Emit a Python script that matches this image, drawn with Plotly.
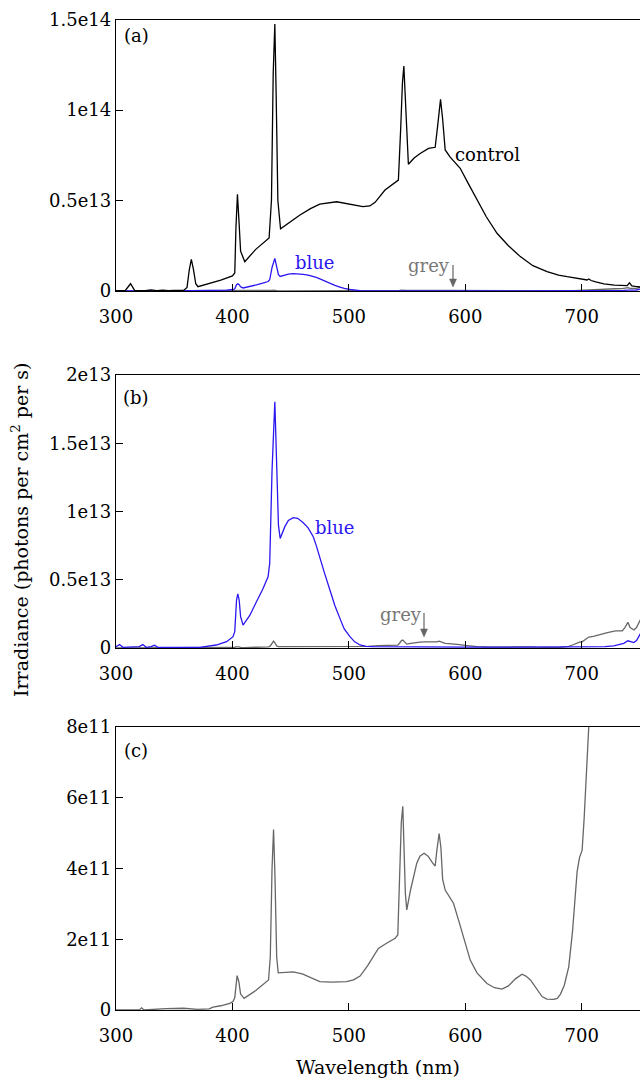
import plotly.graph_objects as go

# ---------------- data ----------------
wl_control = [300, 308, 312.5, 316, 325, 330, 335, 340, 345, 350, 358, 361, 363, 364.7, 366.5, 368.5,
              370.4, 380, 390, 400, 402, 403, 404.3, 405.5, 407, 410.6, 420, 431.5, 433.5, 435, 436.4,
              437.5, 439, 441.3, 450, 458, 467, 475, 489.5, 500, 512, 518, 522.5, 531, 542.5, 544.5,
              546, 547.2, 548.5, 550, 551.1, 556, 561.2, 568.4, 574.1, 576, 578.7, 580.5, 582.7, 587,
              595.6, 602, 610, 618, 627.2, 637, 647.2, 658, 670.2, 680, 687.4, 695, 700, 704.6, 706,
              708, 712, 719, 728, 736, 739, 741, 743, 746, 750]
control = [0.2e12, 0.3e12, 4.0e12, 0.3e12, 0.2e12, 0.6e12, 0.2e12, 0.5e12, 0.2e12, 0.4e12, 0.3e12,
           2.0e12, 12e12, 17.5e12, 12e12, 4.0e12, 2.4e12, 4.0e12, 6.0e12, 8.3e12, 10e12, 35e12,
           53.4e12, 40e12, 22e12, 16.2e12, 23e12, 29.3e12, 50e12, 120e12, 147.5e12, 110e12, 50e12,
           34.4e12, 38.5e12, 42e12, 45.5e12, 48e12, 49.3e12, 48e12, 46.6e12, 47e12, 49e12, 55.8e12,
           61.3e12, 90e12, 115e12, 124.3e12, 105e12, 80e12, 70e12, 73.5e12, 76e12, 78.8e12, 79.4e12,
           90e12, 105.9e12, 95e12, 77.9e12, 74e12, 67.8e12, 60e12, 50.3e12, 41e12, 31.9e12, 25e12,
           19e12, 14e12, 10.7e12, 8.8e12, 7.9e12, 7.2e12, 6.6e12, 6.1e12, 6.6e12, 5.8e12, 5.0e12,
           3.9e12, 3.2e12, 2.8e12, 3.0e12, 4.5e12, 2.8e12, 2.5e12, 2.2e12]

wl_blue = [300, 303, 306, 315, 320, 323, 326, 330, 333, 336, 350, 372, 386, 395, 400.5, 402, 403.5,
           404.6, 405.8, 407, 409.1, 415, 420.6, 426, 430.6, 432, 434, 436.4, 437.8, 439.5, 441, 445,
           448, 452.2, 456, 460.8, 465, 469.4, 472, 475.1, 479, 483.7, 488, 492.3, 496, 500.9, 505,
           509.5, 515, 521, 540, 600, 650, 700, 720, 727.5, 732, 736.1, 739.6, 742, 744.7, 747, 750.5]
blue = [0.1e12, 0.25e12, 0.05e12, 0.05e12, 0.1e12, 0.25e12, 0.05e12, 0.1e12, 0.2e12, 0.05e12,
        0.05e12, 0.05e12, 0.22e12, 0.46e12, 0.83e12, 1.2e12, 3.5e12, 3.96e12, 3.5e12, 2.3e12,
        1.68e12, 2.4e12, 3.39e12, 4.3e12, 5.22e12, 6.2e12, 13e12, 18.04e12, 14e12, 9e12, 8.03e12,
        8.89e12, 9.35e12, 9.55e12, 9.5e12, 9.18e12, 8.8e12, 8.15e12, 7.5e12, 6.69e12, 5.5e12,
        4.25e12, 3.1e12, 2.17e12, 1.4e12, 0.83e12, 0.45e12, 0.22e12, 0.12e12, 0.1e12, 0.08e12,
        0.06e12, 0.06e12, 0.07e12, 0.1e12, 0.15e12, 0.25e12, 0.34e12, 0.53e12, 0.45e12, 0.4e12,
        0.55e12, 1.07e12]

wl_grey = [300, 320, 322, 324, 343, 358, 370, 380, 383.3, 390, 397.7, 400.5, 402, 403, 404, 405.5,
           407, 410, 420, 431, 432.5, 434, 435.3, 436.5, 438, 439.3, 445, 452, 460, 468, 475, 485,
           498, 504, 509.6, 516, 525.3, 532, 539.7, 542, 543.5, 545, 546.3, 547.5, 548.5, 549.7, 553,
           558.3, 561, 564.6, 568, 572, 574.1, 575.5, 577.5, 579, 580.5, 582.7, 586, 589.9, 595, 600,
           604.2, 610, 618.6, 625, 631.5, 637, 643, 648.7, 652, 655.9, 661, 665.9, 670, 675.9, 679,
           681.7, 685, 688.8, 692, 696, 698, 700.3, 702, 703.8, 706, 710, 716, 722, 729, 734.8, 737,
           739.6, 741.5, 744.8, 747, 750.5]
grey = [0.0, 0.003e11, 0.06e11, 0.0, 0.04e11, 0.05e11, 0.02e11, 0.03e11, 0.08e11, 0.12e11, 0.19e11,
        0.24e11, 0.35e11, 0.8e11, 0.97e11, 0.8e11, 0.45e11, 0.33e11, 0.55e11, 0.85e11, 1.5e11, 4.0e11,
        5.1e11, 3.8e11, 1.5e11, 1.05e11, 1.07e11, 1.08e11, 1.02e11, 0.9e11, 0.8e11, 0.79e11, 0.8e11,
        0.85e11, 0.96e11, 1.25e11, 1.74e11, 1.88e11, 2.03e11, 2.12e11, 3.5e11, 5.3e11, 5.76e11,
        4.6e11, 3.3e11, 2.83e11, 3.4e11, 4.15e11, 4.35e11, 4.43e11, 4.35e11, 4.15e11, 4.07e11, 4.5e11,
        4.99e11, 4.6e11, 3.7e11, 3.39e11, 3.2e11, 3.01e11, 2.45e11, 1.9e11, 1.41e11, 1.05e11, 0.75e11,
        0.63e11, 0.59e11, 0.68e11, 0.88e11, 1.01e11, 0.96e11, 0.85e11, 0.6e11, 0.38e11, 0.31e11,
        0.30e11, 0.33e11, 0.45e11, 0.7e11, 1.22e11, 2.2e11, 3.91e11, 4.3e11, 4.52e11, 5.4e11, 6.69e11,
        8.0e11, 8.5e11, 10e11, 11.2e11, 12.5e11, 12.6e11, 15e11, 18.8e11, 15e11, 13.2e11, 15e11, 21e11]

x_ticks = [300, 400, 500, 600, 700]
x_ticktext = ["300", "400", "500", "600", "700"]
ya_ticks = [0, 0.5e14, 1e14, 1.5e14]
ya_text = ["0", "0.5e13", "1e14", "1.5e14"]
yb_ticks = [0, 0.5e13, 1e13, 1.5e13, 2e13]
yb_text = ["0", "0.5e13", "1e13", "1.5e13", "2e13"]
yc_ticks = [0, 2e11, 4e11, 6e11, 8e11]
yc_text = ["0", "2e11", "4e11", "6e11", "8e11"]

# ---------------- styling ----------------
FONT = "DejaVu Serif"
FS = 18
BLUE = "#2b17f0"
GREY = "#666666"
GREY_TXT = "#777777"
W, H, L = 640, 1080, 116
PW = W - L


def px(x):
    return (x - L) / PW


def py(y):
    return 1 - y / H


fig = go.Figure()
panels = [("x", "y", True, True), ("x2", "y2", True, False), ("x3", "y3", False, False)]
for xa, ya, show_blue, show_control in panels:
    fig.add_trace(go.Scatter(x=wl_grey, y=grey, mode="lines", line=dict(color=GREY, width=1.3),
                             xaxis=xa, yaxis=ya, showlegend=False, hoverinfo="skip"))
    if show_blue:
        fig.add_trace(go.Scatter(x=wl_blue, y=blue, mode="lines", line=dict(color=BLUE, width=1.3),
                                 xaxis=xa, yaxis=ya, showlegend=False, hoverinfo="skip"))
    if show_control:
        fig.add_trace(go.Scatter(x=wl_control, y=control, mode="lines", line=dict(color="black", width=1.3),
                                 xaxis=xa, yaxis=ya, showlegend=False, hoverinfo="skip"))

xcommon = dict(range=[300, 750], tickvals=x_ticks, ticktext=x_ticktext, ticks="inside", ticklen=7,
               tickwidth=1, tickcolor="black", showline=True, linecolor="black", linewidth=1.4,
               mirror=True, showgrid=False, zeroline=False, ticklabelstandoff=9,
               tickfont=dict(family=FONT, size=FS, color="black"), domain=[0, 1])
ycommon = dict(ticks="inside", ticklen=7, tickwidth=1, tickcolor="black", showline=True, linecolor="black",
               linewidth=1.4, mirror=False, showgrid=False, zeroline=False,
               tickfont=dict(family=FONT, size=FS, color="black"))

fig.update_layout(
    width=W, height=H, margin=dict(l=L, r=0, t=0, b=0, autoexpand=False),
    plot_bgcolor="white", paper_bgcolor="white",
    xaxis=dict(xcommon, anchor="y"),
    yaxis=dict(ycommon, anchor="x", range=[0, 1.5e14], tickvals=ya_ticks, ticktext=ya_text,
               domain=[py(291), py(19.5)]),
    xaxis2=dict(xcommon, anchor="y2"),
    yaxis2=dict(ycommon, anchor="x2", range=[0, 2e13], tickvals=yb_ticks, ticktext=yb_text,
                domain=[py(648), py(375)]),
    xaxis3=dict(xcommon, anchor="y3"),
    yaxis3=dict(ycommon, anchor="x3", range=[0, 8e11], tickvals=yc_ticks, ticktext=yc_text,
                domain=[py(1010), py(727)]),
)


def label(text, x, y, color="black", size=FS, **kw):
    fig.add_annotation(text=text, x=px(x), y=py(y), xref="paper", yref="paper", showarrow=False,
                       xanchor="center", yanchor="middle",
                       font=dict(family=FONT, size=size, color=color), **kw)


def arrow(x, y_top, y_tip):
    # shaft
    fig.add_shape(type="line", xref="paper", yref="paper", x0=px(x), x1=px(x), y0=py(y_top),
                  y1=py(y_tip - 5), line=dict(color=GREY, width=1.2))
    # head
    path = "M {} {} L {} {} L {} {} Z".format(px(x - 3.5), py(y_tip - 8), px(x + 3.5), py(y_tip - 8),
                                              px(x), py(y_tip))
    fig.add_shape(type="path", xref="paper", yref="paper", path=path, fillcolor=GREY,
                  line=dict(color=GREY, width=0.5))


label("(a)", 136, 35)
label("(b)", 136, 398)
label("(c)", 136, 750)
label("control", 487, 155)
label("blue", 315, 262, BLUE)
label("grey", 429, 265, GREY_TXT)
arrow(453, 265, 287)
label("blue", 335, 527, BLUE)
label("grey", 401, 614, GREY_TXT)
arrow(424, 613, 637)
label("Irradiance (photons per cm<sup>2</sup> per s)", 20, 530, size=19, textangle=-90)
label("Wavelength (nm)", 378, 1067, size=19)

fig.write_html("out.html")
